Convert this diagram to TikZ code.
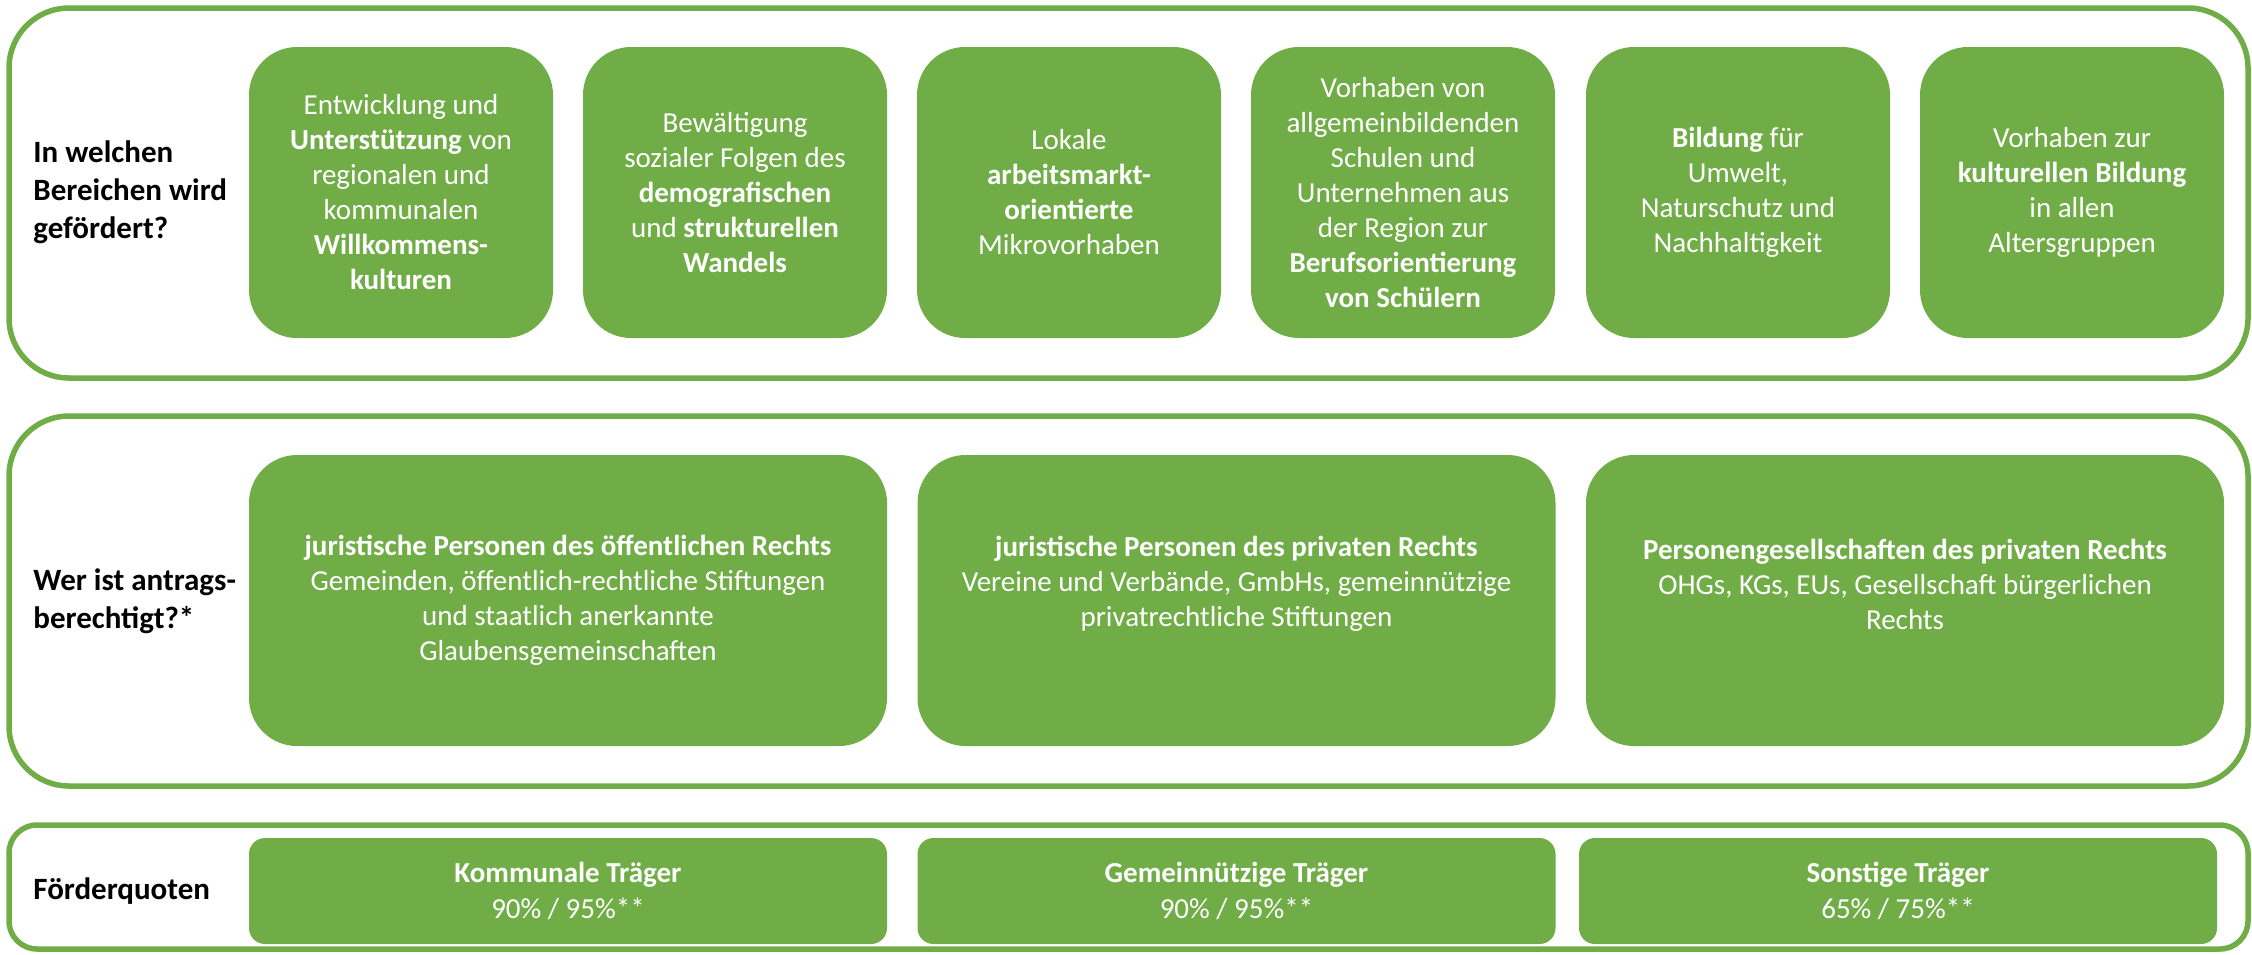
\documentclass[tikz,border=0pt]{standalone}
\usepackage{fontspec}
\setmainfont{Carlito}
\definecolor{ogreen}{HTML}{70AD47}
\begin{document}
\begin{tikzpicture}[x=0.5pt,y=-0.5pt,
  frame/.style={draw=ogreen,line width=2.75pt,fill=none,inner sep=0pt,minimum width=1119.5pt},
  bigframe/.style={frame,rounded corners=30pt,minimum height=185pt},
  smallframe/.style={frame,rounded corners=14pt,minimum height=62pt},
  gbox/.style={fill=ogreen,text=white,inner sep=0pt,align=center,
    font=\fontsize{14.5pt}{17.5pt}\selectfont},
  topbox/.style={gbox,rounded corners=24pt,minimum width=152pt,minimum height=145.5pt},
  midbox/.style={gbox,rounded corners=24pt,minimum width=319pt,minimum height=145.5pt},
  lowbox/.style={gbox,rounded corners=8pt,minimum width=319pt,minimum height=53pt,
    font=\fontsize{14.5pt}{18pt}\selectfont},
  wtext/.style={text=white,inner sep=0pt,align=center,font=\fontsize{14.5pt}{17.5pt}\selectfont},
  rowlabel/.style={anchor=west,inner sep=0pt,align=left,text=black,
    font=\fontsize{15.5pt}{19pt}\selectfont\bfseries}]
\useasboundingbox (0,0) rectangle (2252,954);
% frames
\node[bigframe] (f1) at (1128.5,193) {};
\node[bigframe] (f2) at (1128.5,601) {};
\node[smallframe] (f3) at (1128.5,887) {};
% labels
\node[rowlabel] (l1) at (33,192) {In welchen\\Bereichen wird\\gefördert?};
\node[rowlabel] (l2) at (33,601) {Wer ist antrags-\\berechtigt?*};
\node[rowlabel] (l3) at (33,891) {Förderquoten};
% row 1
\node[topbox] (a1) at (401,192.5) {Entwicklung und\\\textbf{Unterstützung} von\\regionalen und\\kommunalen\\\textbf{Willkommens-}\\\textbf{kulturen}};
\node[topbox] (a2) at (735,192.5) {Bewältigung\\sozialer Folgen des\\\textbf{demografischen}\\und \textbf{strukturellen}\\\textbf{Wandels}};
\node[topbox] (a3) at (1069,192.5) {Lokale\\\textbf{arbeitsmarkt-}\\\textbf{orientierte}\\Mikrovorhaben};
\node[topbox] (a4) at (1403,192.5) {Vorhaben von\\allgemeinbildenden\\Schulen und\\Unternehmen aus\\der Region zur\\\textbf{Berufsorientierung}\\\textbf{von Schülern}};
\node[topbox] (a5) at (1738,192.5) {\textbf{Bildung} für\\Umwelt,\\Naturschutz und\\Nachhaltigkeit};
\node[topbox] (a6) at (2072,192.5) {Vorhaben zur\\\textbf{kulturellen Bildung}\\in allen\\Altersgruppen};
% row 2
\node[midbox] (b1) at (568,600.5) {\textbf{juristische Personen des öffentlichen Rechts}\\Gemeinden, öffentlich-rechtliche Stiftungen\\und staatlich anerkannte\\Glaubensgemeinschaften};
\node[midbox] (b2) at (1236.5,600.5) {};
\node[wtext] (b2t) at (1236.5,584) {\textbf{juristische Personen des privaten Rechts}\\Vereine und Verbände, GmbHs, gemeinnützige\\privatrechtliche Stiftungen};
\node[midbox] (b3) at (1905,600.5) {};
\node[wtext] (b3t) at (1905,584) {\textbf{Personengesellschaften des privaten Rechts}\\OHGs, KGs, EUs, Gesellschaft bürgerlichen\\Rechts};
% row 3
\node[lowbox] (c1) at (568,891) {\textbf{Kommunale Träger}\\90\% / 95\%**};
\node[lowbox] (c2) at (1236.5,891) {\textbf{Gemeinnützige Träger}\\90\% / 95\%**};
\node[lowbox] (c3) at (1898,891) {\textbf{Sonstige Träger}\\65\% / 75\%**};
\end{tikzpicture}
\end{document}
